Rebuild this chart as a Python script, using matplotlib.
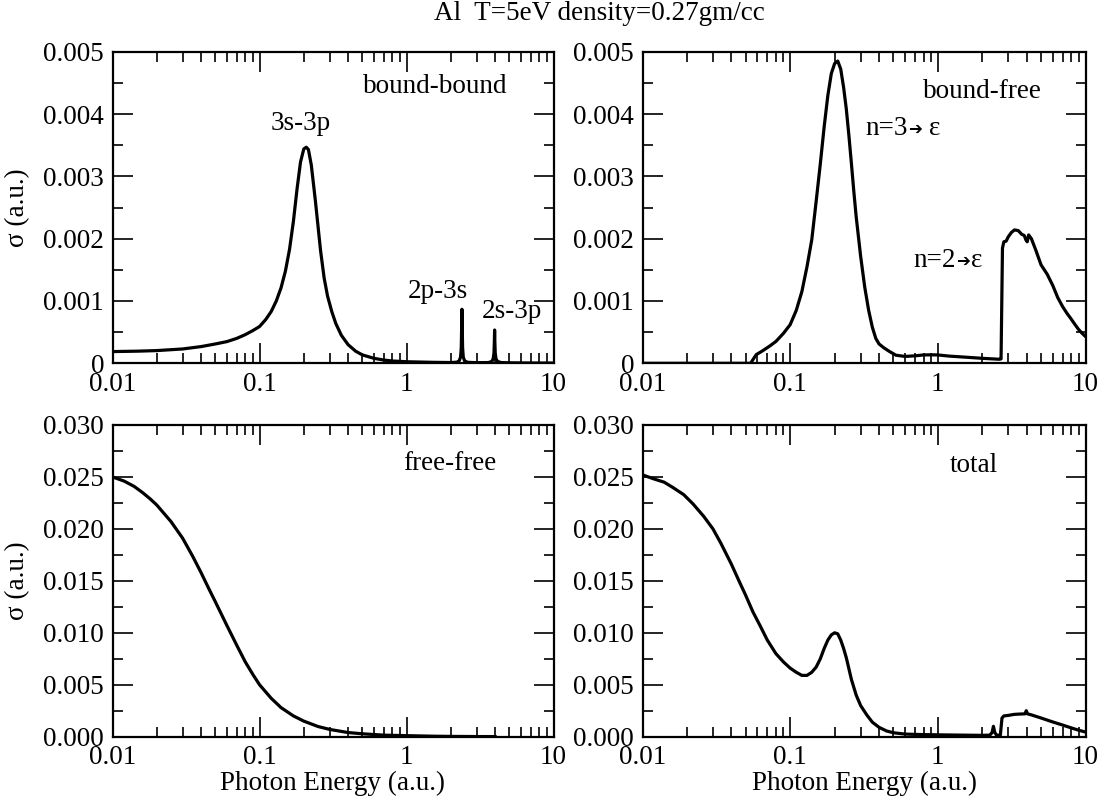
import matplotlib
matplotlib.use("Agg")
import matplotlib.pyplot as plt
from matplotlib.ticker import FixedLocator, NullFormatter, LogLocator, MultipleLocator
import numpy as np

plt.rcParams['font.family'] = ['Liberation Serif', 'DejaVu Serif']
FS = 19.5

# ---------------- data ----------------
bb_x = [0.01, 0.015, 0.02, 0.03, 0.04, 0.05, 0.06, 0.07, 0.08, 0.09, 0.10, 0.11, 0.12,
        0.13, 0.14, 0.15, 0.16, 0.17, 0.18, 0.19, 0.20, 0.208, 0.215, 0.225, 0.24, 0.26,
        0.275, 0.29, 0.31, 0.33, 0.36, 0.40, 0.45, 0.5, 0.6, 0.7, 0.8, 1.0, 1.5, 2.0,
        2.2, 2.28, 2.33, 2.355, 2.37, 2.38, 2.39, 2.405, 2.43, 2.48, 2.6, 3.0,
        3.6, 3.8, 3.88, 3.93, 3.955, 3.97, 3.985, 4.01, 4.06, 4.15, 4.4, 5.0, 7.0, 10.0]
bb_y = [0.000188, 0.000195, 0.000204, 0.00023, 0.000268, 0.00031, 0.000348, 0.0004,
        0.00046, 0.000525, 0.00059, 0.0007, 0.00083, 0.001, 0.00121, 0.00148, 0.00183,
        0.00228, 0.0028, 0.00323, 0.00344, 0.003467, 0.00343, 0.00318, 0.0026, 0.00181,
        0.00137, 0.00108, 0.00083, 0.00064, 0.00045, 0.0003, 0.000195, 0.000135, 0.00008,
        0.000052, 0.000037, 0.000025, 0.000016, 0.000012,
        0.000018, 0.00004, 0.0001, 0.00025, 0.0006, 0.000867, 0.0006, 0.00025, 0.0001,
        0.00004, 0.000016, 0.00001,
        0.000012, 0.00003, 0.00007, 0.00016, 0.00035, 0.000534, 0.00035, 0.00016, 0.00007,
        0.00003, 0.000012, 0.000008, 0.000005, 0.000004]

bf_x = [0.01, 0.054, 0.056, 0.059, 0.065, 0.073, 0.08, 0.09, 0.10, 0.11, 0.12, 0.13, 0.14,
        0.15, 0.16, 0.17, 0.18, 0.19, 0.20, 0.21, 0.22, 0.23, 0.24, 0.25, 0.26, 0.27, 0.28,
        0.30, 0.32, 0.34, 0.36, 0.38, 0.40, 0.43, 0.47, 0.52, 0.6, 0.7, 0.8, 0.9, 1.0, 1.2,
        1.5, 2.0, 2.6, 2.68, 2.74, 2.80, 2.9, 3.0, 3.15, 3.3, 3.5, 3.7, 3.85, 3.95, 4.03,
        4.12, 4.3, 4.6, 5.0, 5.5, 6.0, 6.5, 7.0, 7.5, 8.0, 8.5, 9.0, 9.5, 10.0]
bf_y = [0.0, 0.0, 0.00006, 0.00014, 0.0002, 0.00028, 0.00035, 0.00048, 0.00062, 0.00085,
        0.00115, 0.00155, 0.00198, 0.0026, 0.0032, 0.0038, 0.0043, 0.00465, 0.00481,
        0.00485, 0.00472, 0.00443, 0.00408, 0.00365, 0.0032, 0.00275, 0.00235, 0.00172,
        0.00122, 0.00085, 0.00058, 0.0004, 0.00031, 0.00025, 0.00019, 0.00013, 0.00011,
        0.00012, 0.000134, 0.000136, 0.000134, 0.000115, 0.0001, 0.00008, 0.000065,
        0.00007, 0.00185, 0.00195, 0.00196, 0.00203, 0.0021, 0.00214, 0.00213, 0.00207,
        0.00205, 0.00198, 0.00195, 0.00206, 0.002, 0.00182, 0.00158, 0.00143, 0.00125,
        0.00105, 0.00091, 0.0008, 0.00071, 0.00062, 0.00054, 0.00048, 0.00043]

ff_x = [0.01, 0.012, 0.014, 0.016, 0.018, 0.02, 0.025, 0.03, 0.035, 0.04, 0.045, 0.05,
        0.06, 0.07, 0.08, 0.09, 0.1, 0.12, 0.14, 0.17, 0.2, 0.25, 0.3, 0.4, 0.5, 0.7,
        1.0, 1.5, 2.0, 3.0, 4.0]
ff_y = [0.0250, 0.0246, 0.0241, 0.0235, 0.0229, 0.0223, 0.0207, 0.0191, 0.0174, 0.0158,
        0.0143, 0.0130, 0.0107, 0.0088, 0.0072, 0.0060, 0.0050, 0.0037, 0.0028, 0.0020,
        0.0015, 0.00098, 0.0007, 0.0004, 0.00028, 0.00015, 0.0001, 0.00005, 0.00003,
        0.000015, 0.00001]

tot_x = [0.01, 0.012, 0.014, 0.016, 0.019, 0.022, 0.026, 0.03, 0.034, 0.04, 0.045, 0.05,
         0.056, 0.063, 0.07, 0.08, 0.09, 0.1, 0.11, 0.12, 0.13, 0.14, 0.15, 0.16, 0.17,
         0.18, 0.19, 0.20, 0.21, 0.22, 0.23, 0.24, 0.26, 0.28, 0.30, 0.33, 0.36, 0.40,
         0.45, 0.5, 0.6, 0.8, 1.0, 1.5, 2.0, 2.25, 2.33, 2.38, 2.43, 2.5, 2.65, 2.72, 2.8,
         3.0, 3.3, 3.6, 3.9, 3.97, 4.05, 4.3, 5.0, 6.0, 7.0, 8.0, 9.0, 10.0]
tot_y = [0.0252, 0.0248, 0.0245, 0.0240, 0.0233, 0.0224, 0.0212, 0.0200, 0.0186, 0.0166,
         0.0150, 0.0136, 0.0120, 0.0106, 0.0093, 0.0080, 0.0072, 0.0066, 0.0062, 0.0059,
         0.0059, 0.0062, 0.0067, 0.0075, 0.0085, 0.0093, 0.0098, 0.0100, 0.0099, 0.0093,
         0.0085, 0.0076, 0.0055, 0.0040, 0.0030, 0.0021, 0.0014, 0.0009, 0.00055, 0.00038,
         0.00025, 0.0002, 0.00018, 0.00015, 0.00013, 0.00015, 0.0004, 0.001, 0.0004,
         0.00015, 0.00014, 0.0018, 0.0020, 0.00205, 0.00215, 0.00218, 0.0022, 0.0025,
         0.0022, 0.0021, 0.0018, 0.00142, 0.00112, 0.00085, 0.00062, 0.00045]

x_ticks = [0.01, 0.1, 1, 10]
x_tick_labels = ["0.01", "0.1", "1", "10"]
top_yticks = [0, 0.001, 0.002, 0.003, 0.004, 0.005]
top_ytick_labels = ["0", "0.001", "0.002", "0.003", "0.004", "0.005"]
bot_yticks = [0.0, 0.005, 0.010, 0.015, 0.020, 0.025, 0.030]
bot_ytick_labels = ["0.000", "0.005", "0.010", "0.015", "0.020", "0.025", "0.030"]

title = "Al  T=5eV density=0.27gm/cc"
ylabel = "\u03c3 (a.u.)"
xlabel = "Photon Energy (a.u.)"

# ---------------- figure ----------------
W, H = 1104, 807
fig = plt.figure(figsize=(W / 100, H / 100), dpi=100)

def ax_at(x0, y0, x1, y1):
    return fig.add_axes([x0 / W, 1 - y1 / H, (x1 - x0) / W, (y1 - y0) / H])

ax_bb = ax_at(112.5, 51.7, 553.6, 363.3)
ax_bf = ax_at(642.5, 51.7, 1085.5, 363.3)
ax_ff = ax_at(112.5, 425.0, 553.6, 736.7)
ax_tot = ax_at(642.5, 425.0, 1085.5, 736.7)

LW = 2.3
ax_bb.plot(bb_x, bb_y, color='black', lw=LW)
ax_bf.plot(bf_x, bf_y, color='black', lw=LW)
ax_ff.plot(ff_x, ff_y, color='black', lw=LW)
ax_tot.plot(tot_x, tot_y, color='black', lw=LW)

for ax, row in [(ax_bb, 0), (ax_bf, 0), (ax_ff, 1), (ax_tot, 1)]:
    ax.set_xscale('log')
    ax.set_xlim(0.01, 10)
    ax.xaxis.set_major_locator(FixedLocator(x_ticks))
    ax.set_xticklabels(x_tick_labels)
    ax.xaxis.set_minor_locator(LogLocator(base=10, subs=np.arange(2, 10)))
    ax.xaxis.set_minor_formatter(NullFormatter())
    if row == 0:
        ax.set_ylim(0, 0.005)
        ax.set_yticks(top_yticks)
        ax.set_yticklabels(top_ytick_labels)
        ax.yaxis.set_minor_locator(MultipleLocator(0.0005))
    else:
        ax.set_ylim(0, 0.030)
        ax.set_yticks(bot_yticks)
        ax.set_yticklabels(bot_ytick_labels)
        ax.yaxis.set_minor_locator(MultipleLocator(0.0025))
    ax.tick_params(which='both', direction='in', top=True, right=True,
                   labelsize=FS, width=1.2)
    ax.tick_params(which='major', length=14.4, pad=6)
    ax.tick_params(which='minor', length=7.2)
    for s in ax.spines.values():
        s.set_linewidth(1.6)

def ftext(x, y, s, **kw):
    kw.setdefault('fontsize', FS)
    return fig.text(x / W, 1 - y / H, s, va='baseline', **kw)

ftext(363, 93, "bound-bound", ha='left')
ftext(923, 98, "bound-free", ha='left')
ftext(403, 470, "free-free", ha='left')
ftext(950, 471.7, "total", ha='left')
ftext(301, 130, "3s-3p", ha='center')
ftext(438, 298, "2p-3s", ha='center')
ftext(512, 318, "2s-3p", ha='center')

renderer = fig.canvas.get_renderer()

def arrow_label(x, y, head, gap):
    t = ftext(x, y, head, ha='left')
    x1 = t.get_window_extent(renderer).x1
    a = fig.text((x1 + 1) / W, 1 - (y - 1) / H, "\u2794", fontsize=12,
                 family=['DejaVu Sans'], va='baseline', ha='left')
    x2 = a.get_window_extent(renderer).x1
    fig.text((x2 + gap) / W, 1 - y / H, "\u03b5", fontsize=FS, va='baseline', ha='left')

arrow_label(865, 135, "n=3", 7)
arrow_label(913, 266.7, "n=2", 1)

fig.text(599 / W, 1 - 14 / H, title, fontsize=FS, ha='center', va='center')
fig.text(18 / W, 1 - 207.5 / H, ylabel, fontsize=FS, rotation=90, ha='center', va='center')
fig.text(18 / W, 1 - 580.9 / H, ylabel, fontsize=FS, rotation=90, ha='center', va='center')
fig.text(333 / W, 1 - 790 / H, xlabel, fontsize=FS, ha='center', va='baseline')
fig.text(864 / W, 1 - 790 / H, xlabel, fontsize=FS, ha='center', va='baseline')

fig.savefig("out.png", dpi=100)
